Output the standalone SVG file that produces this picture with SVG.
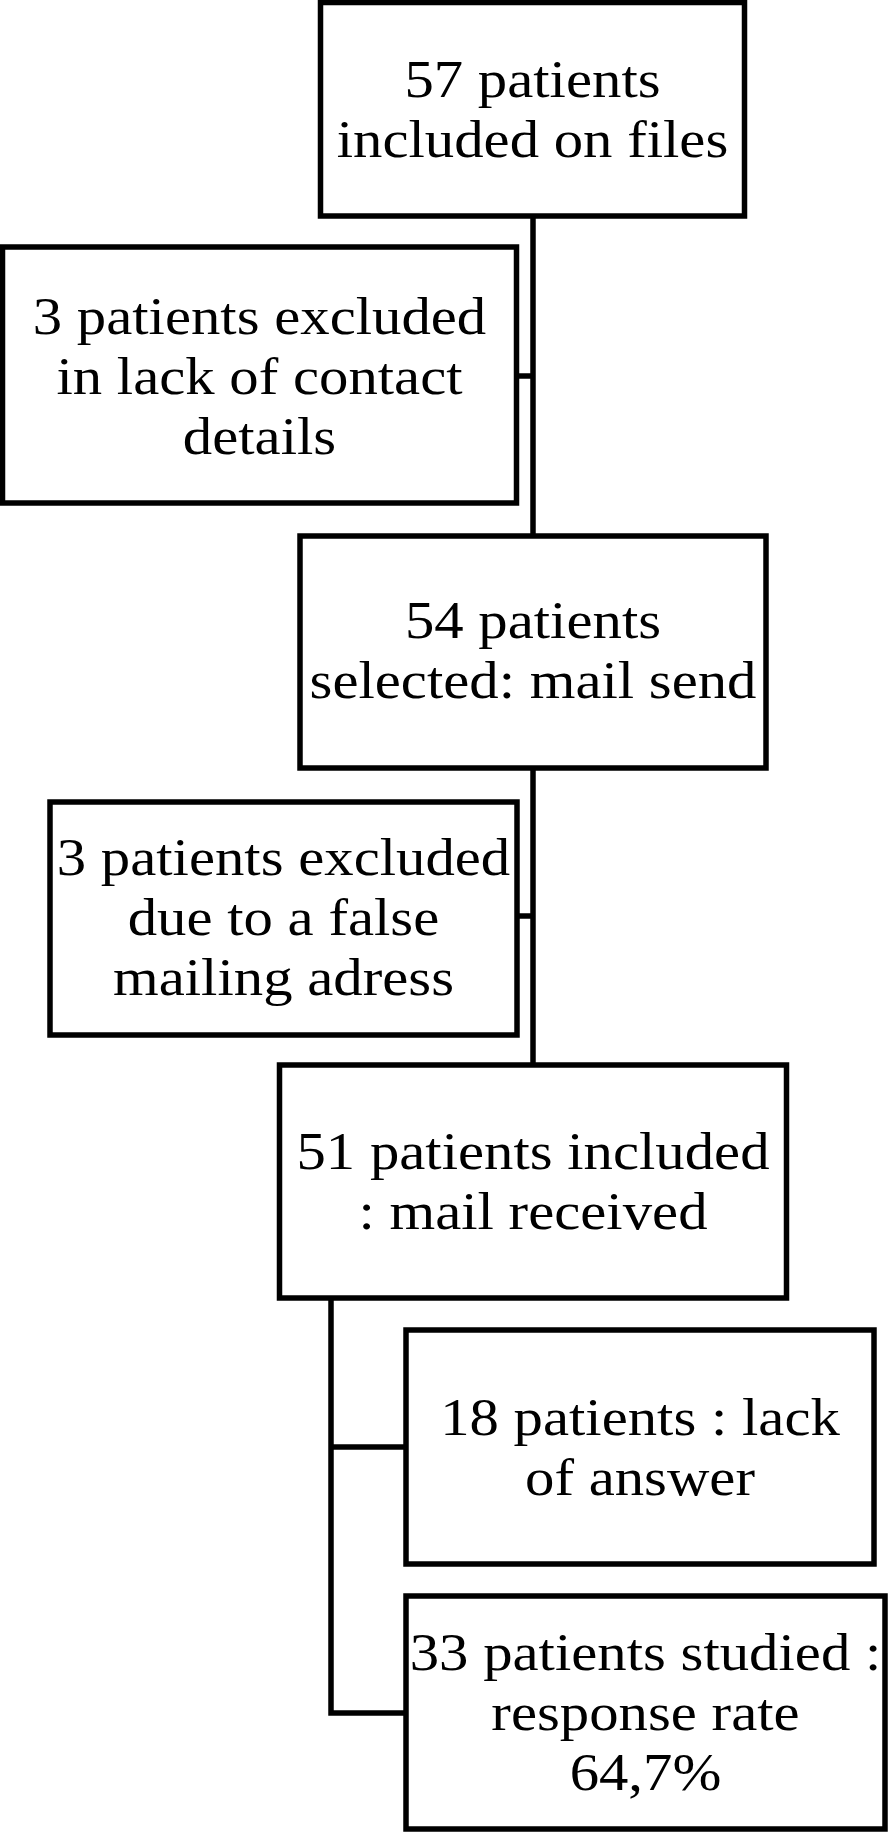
<svg xmlns="http://www.w3.org/2000/svg" width="888" height="1832" viewBox="0 0 888 1832">
<style>
  .box { fill: #ffffff; stroke: #000000; stroke-width: 5.5; }
  .conn { fill: none; stroke: #000000; stroke-width: 5.5; stroke-linecap: butt; stroke-linejoin: miter; }
  .t { font-family: "Liberation Serif", "Times New Roman", serif; font-size: 52px; fill: #000000; text-anchor: middle; }
</style>
<rect width="888" height="1832" fill="#ffffff"/>
<g id="connectors">
  <path class="conn" d="M533 216 V536"/>
  <path class="conn" d="M516 376 H533"/>
  <path class="conn" d="M533 768 V1065"/>
  <path class="conn" d="M517 916 H533"/>
  <path class="conn" d="M331 1298 V1713 H406"/>
  <path class="conn" d="M331 1447 H406"/>
</g>
<g id="n1">
  <rect class="box" x="320.5" y="2.5" width="424" height="213.5"/>
  <g transform="translate(532.5 0) scale(1.13 1)">
    <text class="t" x="0" y="97">57 patients</text>
    <text class="t" x="0" y="157">included on files</text>
  </g>
</g>
<g id="n2">
  <rect class="box" x="2.5" y="247" width="514" height="256"/>
  <g transform="translate(259.5 0) scale(1.13 1)">
    <text class="t" x="0" y="334">3 patients excluded</text>
    <text class="t" x="0" y="394">in lack of contact</text>
    <text class="t" x="0" y="454">details</text>
  </g>
</g>
<g id="n3">
  <rect class="box" x="300" y="536" width="466" height="232"/>
  <g transform="translate(533 0) scale(1.13 1)">
    <text class="t" x="0" y="638">54 patients</text>
    <text class="t" x="0" y="698">selected: mail send</text>
  </g>
</g>
<g id="n4">
  <rect class="box" x="50" y="802" width="467" height="233"/>
  <g transform="translate(283.5 0) scale(1.13 1)">
    <text class="t" x="0" y="875">3 patients excluded</text>
    <text class="t" x="0" y="935">due to a false</text>
    <text class="t" x="0" y="995">mailing adress</text>
  </g>
</g>
<g id="n5">
  <rect class="box" x="279.5" y="1065" width="507" height="233"/>
  <g transform="translate(533 0) scale(1.13 1)">
    <text class="t" x="0" y="1169">51 patients included</text>
    <text class="t" x="0" y="1229">: mail received</text>
  </g>
</g>
<g id="n6">
  <rect class="box" x="406" y="1330" width="468" height="234"/>
  <g transform="translate(640 0) scale(1.13 1)">
    <text class="t" x="0" y="1435">18 patients : lack</text>
    <text class="t" x="0" y="1495">of answer</text>
  </g>
</g>
<g id="n7">
  <rect class="box" x="406" y="1596" width="479" height="233"/>
  <g transform="translate(645.5 0) scale(1.13 1)">
    <text class="t" x="0" y="1670">33 patients studied :</text>
    <text class="t" x="0" y="1730">response rate</text>
    <text class="t" x="0" y="1790">64,7%</text>
  </g>
</g>
</svg>
